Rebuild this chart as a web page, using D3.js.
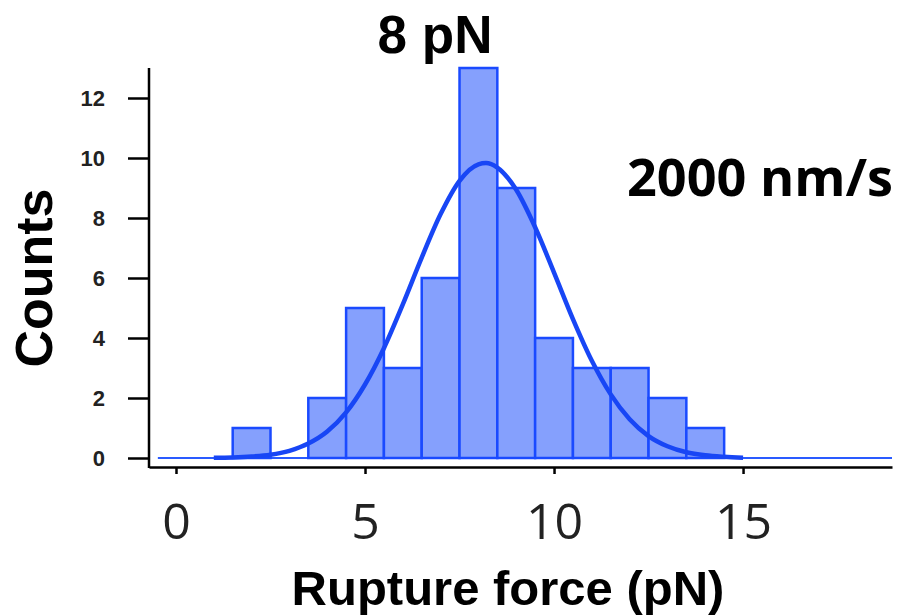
<!DOCTYPE html>
<html>
<head>
<meta charset="utf-8">
<script src="https://cdn.jsdelivr.net/npm/d3@7"></script>
<style>
  body { margin: 0; background: #fff; }
  svg { display: block; }
</style>
</head>
<body>
<svg id="chart" width="901" height="615"></svg>
<script>
// histogram bins (centre of each 1 pN bin) and counts
const binCentres = [2, 3, 4, 5, 6, 7, 8, 9, 10, 11, 12, 13, 14];
const binCounts = [1, 0, 2, 5, 3, 6, 13, 9, 4, 3, 3, 2, 1];
const binWidth = 1;

// gaussian fit curve
const fitX = [1, 1.5, 2, 2.5, 3, 3.5, 4, 4.5, 5, 5.5, 6, 6.5, 7, 7.5, 8, 8.2, 8.5, 9, 9.5, 10, 10.5, 11, 11.5, 12, 12.5, 13, 13.5, 14, 14.5, 15];
const fitY = [0.01, 0.02, 0.05, 0.11, 0.24, 0.48, 0.88, 1.52, 2.45, 3.66, 5.12, 6.68, 8.13, 9.24, 9.79, 9.83, 9.68, 8.94, 7.69, 6.18, 4.63, 3.24, 2.12, 1.29, 0.73, 0.39, 0.19, 0.09, 0.04, 0.01];

const xTicks = [0, 5, 10, 15];
const yTicks = [0, 2, 4, 6, 8, 10, 12];

const svg = d3.select("#chart");

const x = d3.scaleLinear().domain([-0.714, 18.94]).range([149, 892]);
const y = d3.scaleLinear().domain([0, 13]).range([458, 68]);
const axisY = 467;

const blue = "#1a4aff";

// zero line
svg.append("line")
  .attr("x1", x(-0.48)).attr("x2", x(18.94))
  .attr("y1", y(0)).attr("y2", y(0))
  .attr("stroke", "#2a5bff")
  .attr("stroke-width", 2);

// bars
svg.append("g")
  .selectAll("rect")
  .data(binCentres.map((c, i) => ({c: c, n: binCounts[i]})).filter(d => d.n > 0))
  .enter()
  .append("rect")
  .attr("x", d => x(d.c - binWidth / 2))
  .attr("y", d => y(d.n))
  .attr("width", d => x(d.c + binWidth / 2) - x(d.c - binWidth / 2))
  .attr("height", d => y(0) - y(d.n))
  .attr("fill", "#85a0fd")
  .attr("stroke", blue)
  .attr("stroke-width", 2.5);

// fit curve
const line = d3.line()
  .x(d => x(d[0]))
  .y(d => y(d[1]))
  .curve(d3.curveMonotoneX);

svg.append("path")
  .attr("d", line(fitX.map((v, i) => [v, fitY[i]])))
  .attr("fill", "none")
  .attr("stroke", "#1846f5")
  .attr("stroke-width", 4.5);

// x axis
const xAxis = d3.axisBottom(x).tickValues(xTicks).tickSize(7).tickSizeOuter(0).tickPadding(29);
const gx = svg.append("g")
  .attr("transform", `translate(0, ${axisY})`)
  .call(xAxis);
gx.select(".domain").attr("stroke", "#000").attr("stroke-width", 2.5);
gx.selectAll(".tick line").attr("stroke", "#000").attr("stroke-width", 2.5);
gx.selectAll(".tick text")
  .attr("font-family", "'Open Sans', sans-serif")
  .attr("font-size", 50)
  .attr("fill", "#222");

// y axis
svg.append("line")
  .attr("x1", 149).attr("x2", 149)
  .attr("y1", y(13)).attr("y2", axisY + 1)
  .attr("stroke", "#000")
  .attr("stroke-width", 2.5);

const yAxis = d3.axisLeft(y).tickValues(yTicks).tickSize(21).tickPadding(23);
const gy = svg.append("g")
  .attr("transform", "translate(149, 0)")
  .call(yAxis);
gy.select(".domain").remove();
gy.selectAll(".tick line").attr("stroke", "#000").attr("stroke-width", 2.5);
gy.selectAll(".tick text")
  .attr("font-family", "'Liberation Sans', Arial, sans-serif")
  .attr("font-weight", "bold")
  .attr("font-size", 22)
  .attr("fill", "#222");

// labels
svg.append("text")
  .attr("x", 435).attr("y", 53)
  .attr("text-anchor", "middle")
  .attr("font-family", "'Liberation Sans', Arial, sans-serif")
  .attr("font-weight", "bold")
  .attr("font-size", 53)
  .text("8 pN");

svg.append("text")
  .attr("x", 627).attr("y", 196)
  .attr("font-family", "'Open Sans', sans-serif")
  .attr("font-weight", "bold")
  .attr("font-size", 52)
  .attr("textLength", 266)
  .attr("lengthAdjust", "spacingAndGlyphs")
  .text("2000 nm/s");

svg.append("text")
  .attr("transform", "translate(52, 278) rotate(-90)")
  .attr("text-anchor", "middle")
  .attr("font-family", "'Liberation Sans', Arial, sans-serif")
  .attr("font-weight", "bold")
  .attr("font-size", 52)
  .text("Counts");

svg.append("text")
  .attr("x", 508).attr("y", 605)
  .attr("text-anchor", "middle")
  .attr("font-family", "'Liberation Sans', Arial, sans-serif")
  .attr("font-weight", "bold")
  .attr("font-size", 49)
  .text("Rupture force (pN)");
</script>
</body>
</html>
